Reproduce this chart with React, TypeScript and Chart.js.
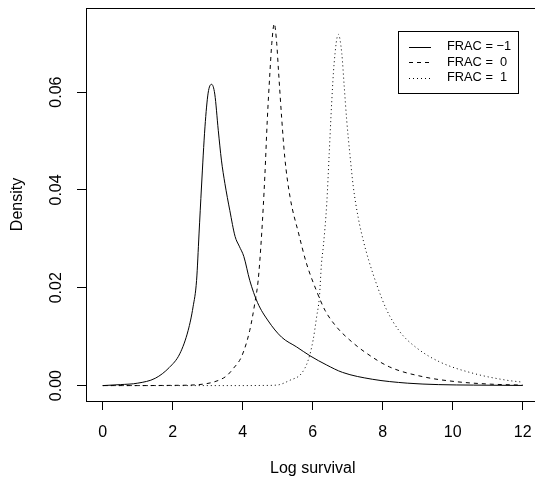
import { useEffect, useRef } from "react";
import { Chart, registerables } from "chart.js";

Chart.register(...registerables);

// FRAC = -1 (solid)
const xMinus1 = [0, 0.5, 1.0, 1.5, 1.9, 2.2, 2.44, 2.58, 2.68, 2.75, 2.82, 2.92, 3.01, 3.11, 3.2, 3.3, 3.39, 3.49, 3.63, 3.78, 3.9, 4.03, 4.2, 4.42, 4.73, 5.11, 5.54, 5.92, 6.4, 6.85, 7.7, 8.7, 9.6, 10.6, 12];
const yMinus1 = [0, 0.0002, 0.0005, 0.0015, 0.0037, 0.0065, 0.0113, 0.0161, 0.0215, 0.031, 0.0406, 0.0529, 0.0598, 0.0616, 0.0596, 0.0522, 0.0461, 0.0413, 0.0358, 0.0305, 0.0285, 0.0264, 0.0215, 0.017, 0.0132, 0.0099, 0.0079, 0.0061, 0.0042, 0.0027, 0.0013, 0.0005, 0.0002, 0.0001, 0.00003];

// FRAC = 0 (dashed)
const xZero = [0, 1, 2, 2.5, 2.87, 3.1, 3.35, 3.54, 3.73, 3.97, 4.2, 4.35, 4.44, 4.54, 4.63, 4.7, 4.78, 4.83, 4.9, 4.97, 5.02, 5.11, 5.2, 5.35, 5.6, 5.82, 6.1, 6.35, 6.68, 7.06, 7.5, 8.2, 9.16, 10.1, 11.07, 12];
const yZero = [0, 0, 0.00005, 0.0001, 0.0003, 0.0006, 0.0012, 0.002, 0.0035, 0.006, 0.0113, 0.0171, 0.0215, 0.031, 0.0427, 0.0542, 0.0645, 0.07, 0.074, 0.07, 0.0645, 0.0549, 0.0467, 0.0386, 0.031, 0.025, 0.0195, 0.0154, 0.012, 0.0093, 0.0068, 0.0038, 0.0018, 0.0008, 0.0003, 0.0001];

// FRAC = 1 (dotted)
const xOne = [0, 2, 4, 4.6, 4.97, 5.35, 5.68, 5.87, 6.01, 6.11, 6.19, 6.25, 6.3, 6.4, 6.47, 6.54, 6.61, 6.73, 6.83, 6.9, 6.97, 7.06, 7.16, 7.3, 7.45, 7.6, 7.83, 8.11, 8.49, 8.97, 9.64, 10.59, 11.54, 12];
const yOne = [0, 0, 0, 0.00003, 0.0001, 0.0011, 0.0025, 0.0052, 0.0093, 0.014, 0.0181, 0.025, 0.0283, 0.0372, 0.0474, 0.0577, 0.0658, 0.0718, 0.0679, 0.0611, 0.0543, 0.0474, 0.0406, 0.0343, 0.0295, 0.0256, 0.0206, 0.0155, 0.011, 0.0077, 0.0048, 0.0025, 0.0011, 0.0007];

const seriesLabels = ["FRAC = \u22121", "FRAC =  0", "FRAC =  1"];
const xTitle = "Log survival";
const yTitle = "Density";

const FONT = "'Liberation Sans', Arial, Helvetica, sans-serif";

const toPts = (xs: number[], ys: number[]) => xs.map((x, i) => ({ x, y: ys[i] }));

const boxAndLegend = {
  id: "boxAndLegend",
  afterDraw(chart: any) {
    const { ctx, chartArea } = chart;
    ctx.save();
    ctx.strokeStyle = "#000";
    ctx.lineWidth = 1;
    ctx.setLineDash([]);
    ctx.beginPath();
    ctx.moveTo(Math.round(chartArea.left) + 0.5, Math.round(chartArea.top) + 0.5);
    ctx.lineTo(chartArea.right + 1, Math.round(chartArea.top) + 0.5);
    ctx.lineTo(chartArea.right + 1, chartArea.bottom);
    ctx.stroke();

    // legend
    const bx = 398.5, by = 31.5, bw = 120, bh = 62;
    ctx.strokeRect(bx, by, bw, bh);
    const rowY = [46.5, 62, 77.5];
    ctx.font = "12.8px " + FONT;
    ctx.fillStyle = "#000";
    ctx.textAlign = "left";
    ctx.textBaseline = "middle";
    chart.data.datasets.forEach((ds: any, i: number) => {
      ctx.setLineDash(ds.borderDash || []);
      ctx.lineWidth = ds.borderWidth;
      ctx.beginPath();
      ctx.moveTo(409, Math.round(rowY[i]) + 0.5);
      ctx.lineTo(431, Math.round(rowY[i]) + 0.5);
      ctx.stroke();
      ctx.setLineDash([]);
      ctx.fillText(ds.label, 447, rowY[i]);
    });
    ctx.restore();
  },
};

export default function App() {
  const ref = useRef<HTMLCanvasElement | null>(null);
  useEffect(() => {
    if (!ref.current) return;
    const chart = new Chart(ref.current, {
      type: "line",
      data: {
        datasets: [
          { label: seriesLabels[0], data: toPts(xMinus1, yMinus1), borderColor: "#000", borderWidth: 1, pointRadius: 0, cubicInterpolationMode: "monotone", fill: false },
          { label: seriesLabels[1], data: toPts(xZero, yZero), borderColor: "#000", borderWidth: 1, borderDash: [4, 4], pointRadius: 0, cubicInterpolationMode: "monotone", fill: false },
          { label: seriesLabels[2], data: toPts(xOne, yOne), borderColor: "#000", borderWidth: 1, borderDash: [1, 3], pointRadius: 0, cubicInterpolationMode: "monotone", fill: false },
        ],
      },
      options: {
        animation: false,
        responsive: false,
        devicePixelRatio: 1,
        layout: { padding: { top: 8, right: 10.5, left: 0, bottom: 0 } },
        plugins: { legend: { display: false }, tooltip: { enabled: false } },
        scales: {
          x: {
            type: "linear",
            min: -0.48,
            max: 12.48,
            ticks: { stepSize: 2, includeBounds: false, color: "#000", padding: 13, font: { family: FONT, size: 16 }, maxRotation: 0, minRotation: 0 },
            grid: { drawOnChartArea: false, drawTicks: true, tickLength: 9, color: "#000" },
            border: { display: true, color: "#000", width: 1 },
            title: { display: true, text: xTitle, color: "#000", font: { family: FONT, size: 16 }, padding: { top: 0, bottom: 1.5 } },
            afterFit: (s: any) => { s.height = 79; s.paddingLeft = 0; s.paddingRight = 0; },
          },
          y: {
            type: "linear",
            min: -0.00315,
            max: 0.0772,
            ticks: {
              stepSize: 0.02,
              includeBounds: false,
              color: "#000",
              padding: 4.5,
              crossAlign: "center",
              minRotation: 90,
              maxRotation: 90,
              font: { family: FONT, size: 16 },
              callback: (v: any) => Number(v).toFixed(2),
            },
            grid: { drawOnChartArea: false, drawTicks: true, tickLength: 9, color: "#000" },
            border: { display: true, color: "#000", width: 1 },
            title: { display: true, text: yTitle, color: "#000", font: { family: FONT, size: 16 }, padding: { top: 7.7, bottom: 0 } },
            afterFit: (s: any) => { s.width = 86; s.paddingTop = 0; s.paddingBottom = 0; },
          },
        },
      },
      plugins: [boxAndLegend],
    } as any);
    return () => chart.destroy();
  }, []);
  return (
    <div style={{ position: "fixed", left: 0, top: 0, width: 535, height: 480, overflow: "hidden", background: "#fff" }}>
      <canvas ref={ref} width={550} height={480} style={{ display: "block", width: 550, height: 480 }} />
    </div>
  );
}
